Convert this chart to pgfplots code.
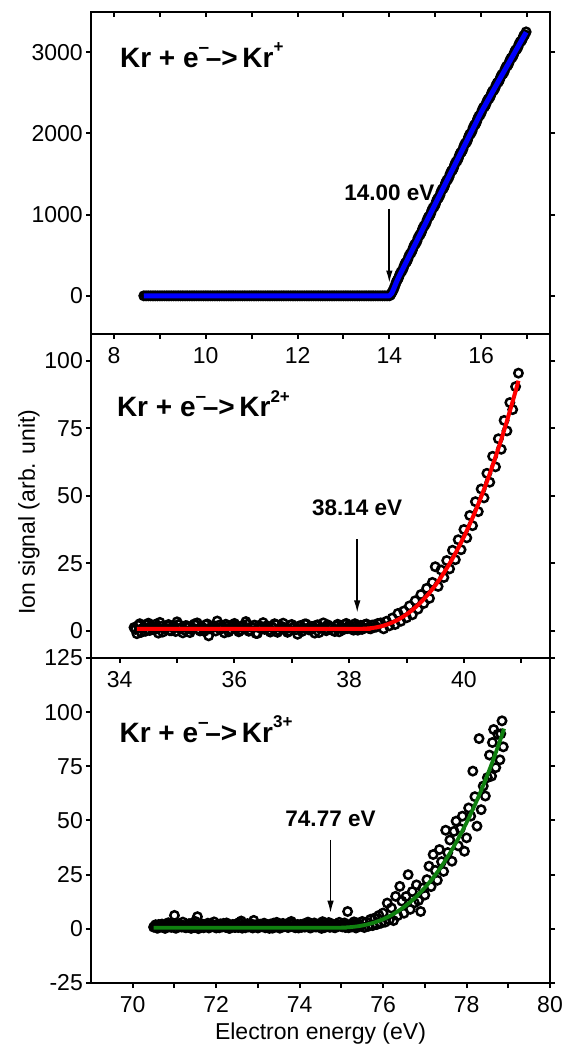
\documentclass[border=0pt]{standalone}
\usepackage{fontspec}
\setmainfont{Liberation Sans}
\usepackage{pgfplots}
\pgfplotsset{compat=1.18}
\usetikzlibrary{arrows.meta}

\definecolor{fitblue}{RGB}{0,0,255}
\definecolor{fitred}{RGB}{255,0,0}
\definecolor{fitgreen}{RGB}{16,128,16}

\newcommand{\lblfont}{\fontsize{23}{27}\selectfont}
\newcommand{\titfont}{\fontsize{28}{32}\selectfont\bfseries}
\newcommand{\annfont}{\fontsize{22.5}{26}\selectfont\bfseries}
% reaction label: Kr + e^- -> Kr^{n+}
\newcommand{\reaction}[1]{{\titfont Kr + e\raisebox{0.5em}{\fontsize{19}{19}\selectfont\bfseries –}\kern-0.12em–>\,Kr\raisebox{0.52em}{\fontsize{17}{17}\selectfont\bfseries #1}}}

\tikzset{arr/.style={line width=1.9pt, -{Latex[length=13pt,width=6.5pt]}}}

\pgfplotsset{
  panel/.style={
    scale only axis,
    width=459pt,
    clip mode=individual,
    axis line style={line width=2.8pt},
    tick style={line width=2pt, black},
    tick align=outside,
    major tick length=5pt,
    minor tick length=5pt,
    xtick pos=left,
    ytick pos=both,
    tick label style={font=\lblfont},
    /pgf/number format/assume math mode=true,
    /pgf/number format/1000 sep={},
    scaled y ticks=false,
    scaled x ticks=false,
    xticklabel style={inner sep=3pt, yshift=-5pt},
    yticklabel style={inner sep=3pt},
  },
  pts/.style={only marks, mark=o, mark size=4.2pt,
    mark options={line width=2.5pt, draw=black}},
  fitcurve/.style={no marks, line width=#1, line join=round},
}

\begin{document}
\begin{tikzpicture}
\useasboundingbox (0,0) rectangle (564pt,1047pt);

% ---------------- Kr+ ----------------
\begin{axis}[panel, at={(91pt,713pt)}, anchor=south west, height=322pt,
  xmin=7.5, xmax=17.5, ymin=-470, ymax=3495,
  xtick={8,10,12,14,16}, minor xtick={9,11,13,15,17},
  ytick={0,1000,2000,3000}]
\addplot[pts] coordinates {
(8.65,0) (8.70,0) (8.75,0) (8.80,0) (8.85,0) (8.90,0) (8.95,0) (9.00,0) (9.05,0) (9.10,0)
(9.15,0) (9.20,0) (9.25,0) (9.30,0) (9.35,0) (9.40,0) (9.45,0) (9.50,0) (9.55,0) (9.60,0)
(9.65,0) (9.70,0) (9.75,0) (9.80,0) (9.85,0) (9.90,0) (9.95,0) (10.00,0) (10.05,0) (10.10,0)
(10.15,0) (10.20,0) (10.25,0) (10.30,0) (10.35,0) (10.40,0) (10.45,0) (10.50,0) (10.55,0) (10.60,0)
(10.65,0) (10.70,0) (10.75,0) (10.80,0) (10.85,0) (10.90,0) (10.95,0) (11.00,0) (11.05,0) (11.10,0)
(11.15,0) (11.20,0) (11.25,0) (11.30,0) (11.35,0) (11.40,0) (11.45,0) (11.50,0) (11.55,0) (11.60,0)
(11.65,0) (11.70,0) (11.75,0) (11.80,0) (11.85,0) (11.90,0) (11.95,0) (12.00,0) (12.05,0) (12.10,0)
(12.15,0) (12.20,0) (12.25,0) (12.30,0) (12.35,0) (12.40,0) (12.45,0) (12.50,0) (12.55,0) (12.60,0)
(12.65,0) (12.70,0) (12.75,0) (12.80,0) (12.85,0) (12.90,0) (12.95,0) (13.00,0) (13.05,0) (13.10,0)
(13.15,0) (13.20,0) (13.25,0) (13.30,0) (13.35,0) (13.40,0) (13.45,0) (13.50,0) (13.55,0) (13.60,0)
(13.65,0) (13.70,0) (13.75,0) (13.80,0) (13.85,0) (13.90,0) (13.95,0) (14.00,0)
(14.05,35) (14.10,90) (14.15,170) (14.20,220) (14.25,290) (14.30,335) (14.35,405) (14.40,445)
(14.45,515) (14.50,560) (14.55,630) (14.60,670) (14.65,740) (14.70,785) (14.75,855) (14.80,898)
(14.85,970) (14.90,1010) (14.95,1082) (15.00,1122) (15.05,1195) (15.10,1236) (15.15,1310) (15.20,1348)
(15.25,1420) (15.30,1462) (15.35,1535) (15.40,1575) (15.45,1648) (15.50,1688) (15.55,1760) (15.60,1800)
(15.65,1875) (15.70,1912) (15.75,1988) (15.80,2025) (15.85,2100) (15.90,2140) (15.95,2212) (16.00,2252)
(16.05,2320) (16.10,2352) (16.15,2420) (16.20,2455) (16.25,2522) (16.30,2556) (16.35,2622) (16.40,2656)
(16.45,2724) (16.50,2757) (16.55,2825) (16.60,2858) (16.65,2926) (16.70,2960) (16.75,3026) (16.80,3060)
(16.85,3128) (16.90,3162) (16.95,3215) (16.98,3250)
};
\addplot[pts] coordinates {
(14.025,10) (14.075,60) (14.125,128) (14.175,195) (14.225,262) (14.275,305) (14.325,375) (14.375,418)
(14.425,488) (14.475,530) (14.525,601) (14.575,644) (14.625,714) (14.675,757) (14.725,827) (14.775,870)
(14.825,940) (14.875,983) (14.925,1053) (14.975,1096) (15.025,1166) (15.075,1208) (15.125,1279) (15.175,1321)
(15.225,1392) (15.275,1434) (15.325,1505) (15.375,1547) (15.425,1618) (15.475,1660) (15.525,1731) (15.575,1773)
(15.625,1844) (15.675,1886) (15.725,1957) (15.775,1999) (15.825,2070) (15.875,2112) (15.925,2183) (15.975,2225)
(16.025,2292) (16.075,2329) (16.125,2393) (16.175,2430) (16.225,2494) (16.275,2531) (16.325,2595) (16.375,2632)
(16.425,2696) (16.475,2733) (16.525,2797) (16.575,2834) (16.625,2898) (16.675,2935) (16.725,2999) (16.775,3036)
(16.825,3100) (16.875,3137) (16.925,3201)
};
\addplot[fitcurve=5pt, fitblue] coordinates {
(8.65,0) (14.00,0) (14.05,28) (14.10,92) (14.15,163) (14.20,226) (15.00,1130)
(16.00,2260) (16.50,2765) (16.98,3245)
};
\node[anchor=base west, inner sep=0pt] at (axis cs:8.13,2815) {\reaction{+}};
\node[font=\annfont, anchor=base, inner sep=0pt] at (axis cs:14,1173) {14.00 eV};
\draw[arr] (axis cs:14,1074) -- (axis cs:14,150);
\end{axis}
% inward ticks along the top edge
\begin{axis}[panel, at={(91pt,713pt)}, anchor=south west, height=322pt,
  xmin=7.5, xmax=17.5, ymin=-470, ymax=3495,
  xtick pos=right, tick align=inside, xticklabels={}, ytick=\empty,
  xtick={8,10,12,14,16}, minor xtick={9,11,13,15,17}]
\end{axis}

% ---------------- Kr2+ ----------------
\begin{axis}[panel, at={(91pt,389pt)}, anchor=south west, height=324pt,
  xmin=33.5, xmax=41.5, ymin=-10, ymax=110,
  xtick={34,36,38,40}, minor xtick={35,37,39,41},
  ytick={0,25,50,75,100},
  ylabel={Ion signal (arb. unit)},
  every axis y label/.style={at={(axis description cs:-0.135,0.45)}, rotate=90,
    anchor=center, font=\lblfont}]
\addplot[pts] coordinates {
(34.25,1.3) (34.30,-1.0) (34.35,2.7) (34.40,1.0) (34.45,-0.1) (34.50,2.9) (34.55,1.8) (34.60,0.4)
(34.65,1.6) (34.70,3.2) (34.75,-0.4) (34.80,1.1) (34.85,2.4) (34.90,0.1) (34.95,1.7) (35.00,3.4)
(35.05,0.9) (35.10,-0.7) (35.15,2.0) (35.20,1.4) (35.25,0.5) (35.30,2.6) (35.35,3.0) (35.40,0.0)
(35.45,1.2) (35.50,2.3) (35.55,-1.8) (35.60,1.5) (35.65,1.9) (35.70,3.7) (35.75,0.6) (35.80,1.3)
(35.85,2.5) (35.90,-0.3) (35.95,1.7) (36.00,2.8) (36.05,1.1) (36.10,0.2) (36.15,2.1) (36.20,3.5)
(36.25,-0.1) (36.30,1.4) (36.35,2.2) (36.40,-0.9) (36.45,1.0) (36.50,3.1) (36.55,1.8) (36.60,0.3)
(36.65,1.6) (36.70,2.7) (36.75,-0.5) (36.80,1.2) (36.85,2.9) (36.90,0.8) (36.95,0.0) (37.00,2.4)
(37.05,1.5) (37.10,-1.2) (37.15,2.0) (37.20,1.1) (37.25,2.6) (37.30,0.4) (37.35,1.7) (37.40,-0.8)
(37.45,2.3) (37.50,1.0) (37.55,3.0) (37.60,0.1) (37.65,1.8) (37.70,1.3) (37.75,-0.2) (37.80,2.5)
(37.85,1.4) (37.90,0.5) (37.95,2.8) (38.00,1.9) (38.05,1.2) (38.10,2.7) (38.15,0.3) (38.20,2.1)
(38.25,1.0) (38.30,2.6) (38.35,0.9) (38.40,2.2) (38.45,1.4) (38.50,2.8)
(38.55,3.0) (38.60,0.8) (38.65,3.6) (38.70,1.9) (38.75,4.8) (38.80,2.4) (38.85,6.5) (38.90,3.6)
(38.95,7.4) (39.00,4.9) (39.05,9.3) (39.10,6.0) (39.15,11.2) (39.20,8.1) (39.25,13.5) (39.30,10.2)
(39.35,15.8) (39.40,12.1) (39.45,18.0) (39.50,23.8) (39.55,16.5) (39.60,22.6) (39.65,19.8) (39.70,26.1)
(39.75,23.0) (39.80,29.9) (39.85,26.4) (39.90,33.8) (39.95,30.1) (40.00,37.6) (40.05,34.5) (40.10,42.8)
(40.15,39.0) (40.20,47.9) (40.25,44.2) (40.30,52.6) (40.35,49.3) (40.40,58.4) (40.45,55.1) (40.50,64.7)
(40.55,60.8) (40.60,71.2) (40.65,67.3) (40.70,78.0) (40.75,74.1) (40.80,84.6) (40.85,82.0) (40.90,90.5)
(40.95,95.5)
};
\addplot[pts] coordinates {
(34.275,0.6) (34.325,2.1) (34.375,-0.5) (34.425,1.4) (34.475,2.3) (34.525,0.2) (34.575,1.0) (34.625,2.5)
(34.675,-0.8) (34.725,1.7) (34.775,0.9) (34.825,2.0) (34.875,0.1) (34.925,1.5) (34.975,-0.2) (35.025,2.4)
(35.075,1.2) (35.125,0.4) (35.175,1.9) (35.225,-0.6) (35.275,1.1) (35.325,2.2) (35.375,0.7) (35.425,1.6)
(35.475,-0.1) (35.525,2.6) (35.575,0.8) (35.625,1.3) (35.675,0.0) (35.725,2.1) (35.775,1.4) (35.825,-0.7)
(35.875,1.8) (35.925,0.5) (35.975,2.3) (36.025,1.0) (36.075,-0.3) (36.125,1.6) (36.175,0.9) (36.225,2.5)
(36.275,0.3) (36.325,1.2) (36.375,-0.9) (36.425,2.0) (36.475,1.5) (36.525,0.6) (36.575,1.9) (36.625,-0.4)
(36.675,1.1) (36.725,2.4) (36.775,0.2) (36.825,1.7) (36.875,0.8) (36.925,-0.5) (36.975,2.2) (37.025,1.3)
(37.075,0.5) (37.125,1.8) (37.175,-0.2) (37.225,2.6) (37.275,1.0) (37.325,0.4) (37.375,1.5) (37.425,2.1)
(37.475,-0.6) (37.525,1.2) (37.575,0.7) (37.625,2.3) (37.675,1.6) (37.725,0.1) (37.775,1.9) (37.825,-0.3)
(37.875,1.4) (37.925,2.5) (37.975,0.9) (38.025,1.1) (38.075,0.3) (38.125,2.0) (38.175,1.7) (38.225,0.6)
(38.275,2.4) (38.325,1.3) (38.375,0.8) (38.425,2.2) (38.475,1.5)
};
\addplot[fitcurve=4pt, fitred, smooth] coordinates {
(34.30,0.8) (38.10,0.8) (38.20,0.8) (38.30,0.9) (38.40,1.1) (38.50,1.46) (38.60,1.99) (38.70,2.72)
(38.80,3.64) (38.90,4.79) (39.00,6.16) (39.10,7.78) (39.20,9.66) (39.30,11.8) (39.40,14.2) (39.50,16.9)
(39.60,19.9) (39.70,23.2) (39.80,26.8) (39.90,30.7) (40.00,34.9) (40.10,39.5) (40.20,44.4) (40.30,49.7)
(40.40,55.3) (40.50,61.3) (40.60,67.6) (40.70,74.3) (40.80,81.4) (40.90,88.8) (40.95,92.7)
};
\node[anchor=base west, inner sep=0pt] at (axis cs:33.95,79.3) {\reaction{2+}};
\node[font=\annfont, anchor=base, inner sep=0pt] at (axis cs:38.14,42.6) {38.14 eV};
\draw[arr] (axis cs:38.14,34) -- (axis cs:38.14,6.5);
\end{axis}

% ---------------- Kr3+ ----------------
\begin{axis}[panel, at={(91pt,64pt)}, anchor=south west, height=325pt,
  xmin=69, xmax=80, ymin=-25, ymax=125,
  xtick={70,72,74,76,78,80}, minor xtick={71,73,75,77,79},
  ytick={-25,0,25,50,75,100,125},
  xlabel={Electron energy (eV)},
  every axis x label/.style={at={(axis description cs:0.5,-0.157)}, anchor=center,
    font=\lblfont}]
\addplot[pts] coordinates {
(70.50,0.8) (70.55,1.9) (70.60,0.3) (70.65,1.4) (70.70,2.2) (70.75,0.6) (70.80,1.7) (70.85,2.8)
(70.90,0.9) (70.95,1.5) (71.00,6.2) (71.05,0.4) (71.10,2.0) (71.15,1.2) (71.20,3.1) (71.25,0.7)
(71.30,1.6) (71.35,2.4) (71.40,0.2) (71.45,1.9) (71.50,3.4) (71.55,5.6) (71.60,1.0) (71.65,2.2)
(71.70,0.5) (71.75,1.3) (71.80,2.6) (71.85,0.8) (71.90,1.7) (71.95,3.2) (72.00,0.4) (72.05,1.5)
(72.10,2.3) (72.15,0.9) (72.20,1.8) (72.25,2.7) (72.30,0.3) (72.35,1.2) (72.40,2.0) (72.45,0.6)
(72.50,1.6) (72.55,2.9) (72.60,3.6) (72.65,1.1) (72.70,0.5) (72.75,2.4) (72.80,1.3) (72.85,0.7)
(72.90,3.9) (72.95,1.8) (73.00,0.4) (73.05,2.1) (73.10,1.0) (73.15,2.6) (73.20,0.8) (73.25,1.5)
(73.30,2.2) (73.35,0.3) (73.40,1.9) (73.45,3.0) (73.50,1.2) (73.55,0.6) (73.60,2.5) (73.65,1.4)
(73.70,0.9) (73.75,2.8) (73.80,3.4) (73.85,1.1) (73.90,0.5) (73.95,2.0) (74.00,1.6) (74.05,0.7)
(74.10,2.3) (74.15,1.3) (74.20,3.1) (74.25,0.4) (74.30,1.8) (74.35,2.7) (74.40,0.9) (74.45,1.5)
(74.50,2.4) (74.55,3.3) (74.60,0.6) (74.65,1.7) (74.70,2.9) (74.75,1.0) (74.80,2.1) (74.85,0.5)
(74.90,1.4) (74.95,3.0) (75.00,1.1) (75.05,2.2) (75.10,0.6) (75.15,8.0) (75.20,1.8) (75.25,0.9)
(75.30,3.2) (75.35,0.4) (75.40,2.5) (75.45,1.3) (75.50,3.4)
(75.55,0.6) (75.60,3.1) (75.65,1.2) (75.70,4.4) (75.75,1.5) (75.80,5.0) (75.85,2.0) (75.90,6.2)
(75.95,2.6) (76.00,7.3) (76.05,3.1) (76.10,11.9) (76.15,4.2) (76.20,9.6) (76.25,3.8) (76.30,15.0)
(76.35,6.1) (76.40,19.6) (76.45,12.8) (76.50,7.2) (76.55,14.9) (76.60,25.0) (76.65,9.0) (76.70,17.2)
(76.75,12.0) (76.80,20.3) (76.85,13.1) (76.90,8.0) (76.95,18.8) (77.00,15.6) (77.05,22.7) (77.10,28.9)
(77.15,19.5) (77.20,34.3) (77.25,27.0) (77.30,22.4) (77.35,36.6) (77.40,31.0) (77.45,26.5) (77.50,45.5)
(77.55,35.2) (77.60,41.0) (77.65,31.2) (77.70,45.0) (77.75,49.7) (77.80,38.3) (77.85,46.2) (77.90,52.0)
(77.95,35.8) (78.00,42.0) (78.05,55.8) (78.10,52.0) (78.15,72.8) (78.20,61.0) (78.25,47.4) (78.30,87.8)
(78.35,55.0) (78.40,65.9) (78.45,61.3) (78.50,69.8) (78.55,80.2) (78.60,70.5) (78.62,86.0) (78.65,92.0)
(78.70,74.4) (78.75,89.8) (78.80,78.0) (78.82,90.0) (78.85,96.0) (78.88,84.0)
};
\addplot[pts] coordinates {
(70.525,1.2) (70.575,0.4) (70.625,2.0) (70.675,0.9) (70.725,1.6) (70.775,0.2) (70.825,2.4) (70.875,1.1)
(70.925,0.7) (70.975,1.8) (71.025,0.3) (71.075,1.4) (71.125,2.2) (71.175,0.8) (71.225,1.5) (71.275,0.5)
(71.325,1.9) (71.375,1.0) (71.425,2.6) (71.475,0.6) (71.525,1.3) (71.575,0.1) (71.625,1.7) (71.675,2.1)
(71.725,0.9) (71.775,1.2) (71.825,0.4) (71.875,2.3) (71.925,1.6) (71.975,0.8) (72.025,1.9) (72.075,0.5)
(72.125,1.1) (72.175,2.5) (72.225,0.7) (72.275,1.4) (72.325,0.2) (72.375,1.8) (72.425,1.0) (72.475,2.2)
(72.525,0.6) (72.575,1.5) (72.625,0.3) (72.675,2.0) (72.725,1.2) (72.775,0.9) (72.825,2.4) (72.875,0.4)
(72.925,1.7) (72.975,1.1) (73.025,0.8) (73.075,2.1) (73.125,1.3) (73.175,0.5) (73.225,1.9) (73.275,0.2)
(73.325,1.6) (73.375,2.6) (73.425,0.9) (73.475,1.4) (73.525,0.3) (73.575,2.2) (73.625,1.0) (73.675,1.8)
(73.725,0.6) (73.775,1.2) (73.825,2.5) (73.875,0.7) (73.925,1.5) (73.975,0.4) (74.025,2.0) (74.075,1.1)
(74.125,0.8) (74.175,1.7) (74.225,2.3) (74.275,0.5) (74.325,1.3) (74.375,0.9) (74.425,2.1) (74.475,1.6)
(74.525,0.2) (74.575,1.9) (74.625,1.0) (74.675,2.4) (74.725,0.7) (74.775,1.4) (74.825,0.6) (74.875,2.2)
(74.925,1.2) (74.975,1.8) (75.025,0.9) (75.075,2.7) (75.125,1.5) (75.175,0.5) (75.225,2.0) (75.275,1.1)
(75.325,3.0) (75.375,0.8) (75.425,1.6)
};
\addplot[fitcurve=3.8pt, fitgreen, smooth] coordinates {
(70.50,0.5) (74.80,0.5) (75.00,0.55) (75.20,0.76) (75.40,1.19) (75.60,1.92) (75.80,2.98) (76.00,4.44)
(76.20,6.33) (76.40,8.69) (76.60,11.57) (76.80,14.99) (77.00,19.0) (77.20,23.6) (77.40,28.9) (77.60,34.9)
(77.80,41.6) (78.00,49.0) (78.20,57.2) (78.40,66.2) (78.60,76.0) (78.80,86.7) (78.90,92.4)
};
\node[anchor=base west, inner sep=0pt] at (axis cs:69.68,86.1) {\reaction{3+}};
\node[font=\annfont, anchor=base, inner sep=0pt] at (axis cs:74.74,47.2) {74.77 eV};
\draw[arr] (axis cs:74.74,41) -- (axis cs:74.74,7);
\end{axis}
\end{tikzpicture}
\end{document}
